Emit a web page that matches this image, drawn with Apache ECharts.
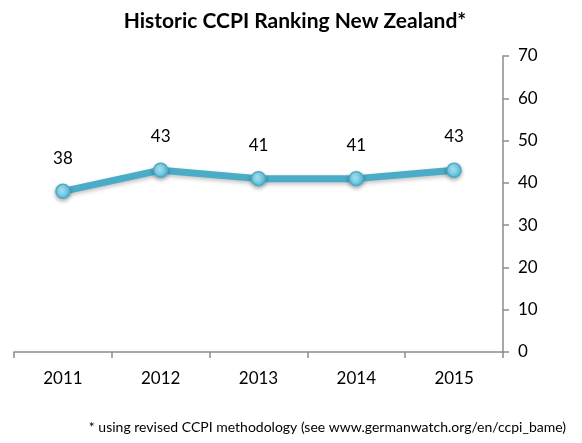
<!DOCTYPE html>
<html>
<head>
<meta charset="utf-8">
<script src="https://cdn.jsdelivr.net/npm/echarts@6/dist/echarts.min.js"></script>
<style>
  html, body { margin: 0; padding: 0; background: #fff; }
  #chart { width: 582px; height: 443px; }
</style>
</head>
<body>
<div id="chart"></div>
<script>
const years = ['2011', '2012', '2013', '2014', '2015']
const ranking = [38, 43, 41, 41, 43]
const yTicks = { min: 0, max: 70, interval: 10 }

const font = 'Lato, "Open Sans", sans-serif'
const axisGray = '#8c8c8c'

const myChart = echarts.init(document.getElementById('chart'))
const option = {
  animation: false,
  title: {
    text: 'Historic CCPI Ranking New Zealand*',
    left: 290,
    top: 6,
    textAlign: 'center',
    textStyle: { fontFamily: font, fontSize: 21, fontWeight: 'bold', color: '#000' }
  },
  graphic: [
    {
      type: 'text',
      right: 16,
      top: 420,
      style: {
        text: '* using revised CCPI methodology (see www.germanwatch.org/en/ccpi_bame)',
        font: '14px ' + font,
        fill: '#000'
      }
    }
  ],
  grid: { left: 14, right: 79, top: 56, bottom: 91 },
  xAxis: {
    type: 'category',
    data: years,
    boundaryGap: true,
    axisLine: { lineStyle: { color: axisGray, width: 1.5 } },
    axisTick: { show: true, length: 6, lineStyle: { color: axisGray, width: 1.5 } },
    axisLabel: { margin: 18, fontFamily: font, fontSize: 17, color: '#000' }
  },
  yAxis: {
    type: 'value',
    position: 'right',
    min: yTicks.min,
    max: yTicks.max,
    interval: yTicks.interval,
    splitLine: { show: false },
    axisLine: { show: true, lineStyle: { color: axisGray, width: 1.5 } },
    axisTick: { show: true, length: 6, lineStyle: { color: axisGray, width: 1.5 } },
    axisLabel: { margin: 15, fontFamily: font, fontSize: 17, color: '#000' }
  },
  series: [
    {
      type: 'line',
      data: ranking,
      symbol: 'circle',
      symbolSize: 14,
      lineStyle: { color: '#4aacc6', width: 7, shadowColor: 'rgba(0,0,0,0.25)', shadowBlur: 4, shadowOffsetY: 2 },
      itemStyle: {
        color: new echarts.graphic.RadialGradient(0.4, 0.35, 0.7, [
          { offset: 0, color: '#b0e8f7' },
          { offset: 1, color: '#4ebde0' }
        ]),
        borderColor: '#4aacc6',
        borderWidth: 1.5,
        shadowColor: 'rgba(0,0,0,0.3)',
        shadowBlur: 4,
        shadowOffsetY: 2
      },
      label: {
        show: true,
        position: 'top',
        distance: 17,
        fontFamily: font,
        fontSize: 17,
        color: '#000'
      }
    }
  ]
}
myChart.setOption(option)
</script>
</body>
</html>
